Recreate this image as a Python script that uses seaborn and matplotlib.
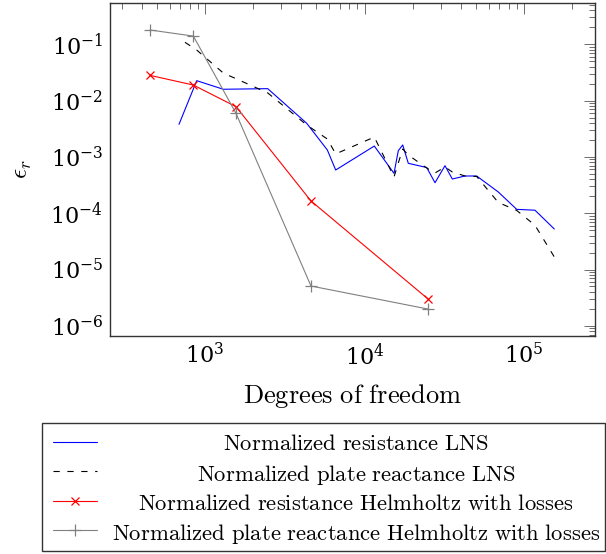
import numpy as np
import pandas as pd
import matplotlib
matplotlib.use("Agg")
import matplotlib.pyplot as plt
import matplotlib.ticker as mticker
from matplotlib.lines import Line2D
import seaborn as sns

# ---------------- data ----------------
dof_lns_r = [687, 887, 1302, 2473, 4342, 5846, 6597, 11520, 15310, 16290, 17360,
             18820, 24550, 27670, 31960, 35520, 42660, 50510, 69010, 90020, 117200, 154900]
res_lns = [3.79e-3, 2.26e-2, 1.59e-2, 1.63e-2, 3.95e-3, 1.33e-3, 5.85e-4, 1.56e-3,
           5.11e-4, 1.29e-3, 1.63e-3, 7.69e-4, 6.48e-4, 3.48e-4, 6.98e-4, 4.05e-4,
           4.58e-4, 4.58e-4, 2.38e-4, 1.17e-4, 1.13e-4, 5.24e-5]

dof_lns_x = [749, 887, 1302, 2473, 4342, 5846, 6597, 11520, 15310, 16290, 17360,
             18820, 24550, 27670, 31960, 35520, 42660, 50510, 69010, 90020, 117200, 154900]
reac_lns = [1.085e-1, 7.92e-2, 3.09e-2, 1.37e-2, 3.69e-3, 2.08e-3, 1.13e-3, 2.25e-3,
            4.4e-4, 7.8e-4, 1.38e-3, 1.08e-3, 6.35e-4, 5.18e-4, 6.62e-4, 5.4e-4,
            4.58e-4, 4.49e-4, 1.55e-4, 1.12e-4, 6.1e-5, 1.67e-5]

dof_helm = [452, 845, 1564, 4618, 24900]
res_helm = [2.81e-2, 1.89e-2, 7.8e-3, 1.65e-4, 3.03e-6]
reac_helm = [1.795e-1, 1.40e-1, 5.95e-3, 5.09e-6, 1.99e-6]

labels = ["Normalized resistance LNS",
          "Normalized plate reactance LNS",
          "Normalized resistance Helmholtz with losses",
          "Normalized plate reactance Helmholtz with losses"]
xlabel = "Degrees of freedom"
xticks = [1e3, 1e4, 1e5]
yticks = [1e-6, 1e-5, 1e-4, 1e-3, 1e-2, 1e-1]


def cm_text(s):
    return r"$\mathrm{" + s.replace(" ", r"\ ") + "}$"


# ---------------- style ----------------
sns.set_theme(style="white")
plt.rcParams["font.family"] = ["DejaVu Serif"]
plt.rcParams["mathtext.fontset"] = "cm"
plt.rcParams["axes.formatter.use_mathtext"] = True
plt.rcParams["lines.scale_dashes"] = False
plt.rcParams["text.color"] = "black"

W, H = 606, 554
fig = plt.figure(figsize=(W / 100, H / 100), dpi=100)
ax = fig.add_axes([110 / W, 1 - 336 / H, 485 / W, 333 / H])

df1 = pd.DataFrame({"dof": dof_lns_r, "err": res_lns})
df2 = pd.DataFrame({"dof": dof_lns_x, "err": reac_lns})
df3 = pd.DataFrame({"dof": dof_helm, "err": res_helm})
df4 = pd.DataFrame({"dof": dof_helm, "err": reac_helm})

lw = 0.8
dash = (0, (4.5, 5.5))
sns.lineplot(data=df1, x="dof", y="err", ax=ax, color="#0000ff", lw=lw,
             estimator=None, sort=False)
sns.lineplot(data=df2, x="dof", y="err", ax=ax, color="black", lw=lw,
             linestyle=dash, estimator=None, sort=False)
sns.lineplot(data=df3, x="dof", y="err", ax=ax, color="#ff0000", lw=lw,
             marker="x", markersize=6, markeredgewidth=0.9, markeredgecolor="#ff0000",
             estimator=None, sort=False)
sns.lineplot(data=df4, x="dof", y="err", ax=ax, color="#808080", lw=lw,
             marker="+", markersize=9, markeredgewidth=0.9, markeredgecolor="#808080",
             estimator=None, sort=False)
ax.lines[1].set_linestyle(dash)

ax.set_xscale("log")
ax.set_yscale("log")
ax.set_xlim(253.7, 2.787e5)
ax.set_ylim(6.59e-7, 0.5416)

ax.xaxis.set_major_locator(mticker.FixedLocator(xticks))
ax.yaxis.set_major_locator(mticker.FixedLocator(yticks))
ax.xaxis.set_minor_locator(mticker.LogLocator(base=10, subs=np.arange(2, 10), numticks=100))
ax.yaxis.set_minor_locator(mticker.LogLocator(base=10, subs=np.arange(2, 10), numticks=100))
ax.xaxis.set_minor_formatter(mticker.NullFormatter())
ax.yaxis.set_minor_formatter(mticker.NullFormatter())
ax.xaxis.set_major_formatter(mticker.LogFormatterMathtext())
ax.yaxis.set_major_formatter(mticker.LogFormatterMathtext())

ax.tick_params(which="both", direction="in", top=True, right=True,
               color="#555555", labelcolor="black", width=0.6, labelsize=16)
ax.tick_params(which="major", length=7.8, pad=5)
ax.tick_params(which="minor", length=4.5)
for sp in ax.spines.values():
    sp.set_color("#333333")
    sp.set_linewidth(1.0)

ax.set_xlabel(cm_text(xlabel), fontsize=19, labelpad=9, color="black")
ax.set_ylabel(r"$\epsilon_r$", fontsize=18, labelpad=12, color="black")

# ---------------- legend ----------------
styles = ["-", dash, "-", "-"]
handles = ax.get_lines()[:4]
proxy = [Line2D([], [], color=h.get_color(), lw=lw, linestyle=st,
                marker=h.get_marker(), markersize=h.get_markersize(),
                markeredgewidth=0.9, markeredgecolor=h.get_color())
         for h, st in zip(handles, styles)]
leg = fig.legend(proxy, [" "] * 4, loc="upper left",
                 bbox_to_anchor=(42 / W, 1 - 423 / H, 563 / W, 0.0), mode="expand",
                 fontsize=12, handlelength=2.6, labelspacing=0.75, borderpad=0.68,
                 frameon=True, fancybox=False, edgecolor="#333333", framealpha=1,
                 borderaxespad=0, handletextpad=0.5)
leg.get_frame().set_linewidth(1.0)
leg.set_zorder(2)

# centred legend texts (pgfplots style: cells centred), one per row
row_y = [442, 472, 501.5, 531]
text_xc = 356
for lab, yy in zip(labels, row_y):
    fig.text(text_xc / W, 1 - yy / H, cm_text(lab), ha="center",
             va="center_baseline", fontsize=16.3, color="black", zorder=10)

fig.savefig("out.png", dpi=100)
